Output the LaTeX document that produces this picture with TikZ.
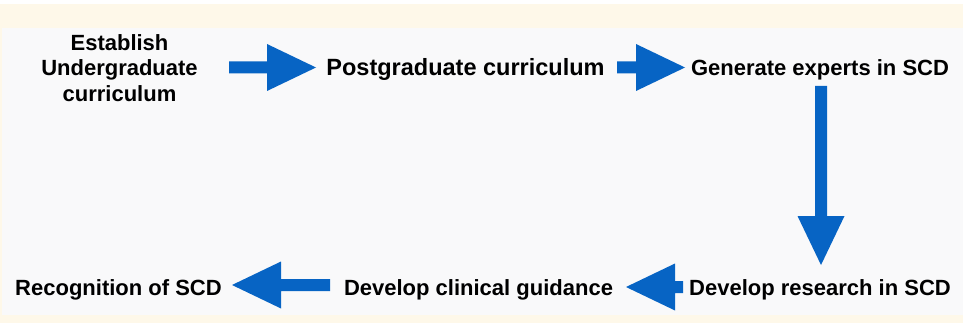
\documentclass[tikz,border=0pt]{standalone}
\usepackage{fontspec}
\setmainfont{Liberation Sans}
\definecolor{cream}{HTML}{FEF8E9}
\definecolor{panel}{HTML}{F9F9FA}
\definecolor{arrowblue}{HTML}{0764C4}
\tikzset{
  lbl/.style={font=\bfseries\fontsize{22}{25.5}\selectfont, inner sep=0pt, align=center, text=black},
  lblbig/.style={lbl, font=\bfseries\fontsize{23.5}{27}\selectfont},
  pics/barrow/.style={code={
    \fill[arrowblue] (0,-6) -- (#1-49,-6) -- (#1-49,-23.5) -- (#1,0) -- (#1-49,23.5) -- (#1-49,6) -- (0,6) -- cycle;}}
}
\begin{document}
\begin{tikzpicture}[x=1pt,y=-1pt]
\useasboundingbox (0,0) rectangle (963,323);
\fill[cream] (0,0) rectangle (963,323);
\fill[white] (0,0) rectangle (963,4);
\fill[panel] (2,28) rectangle (963,315);

\node[lbl, anchor=center] (est) at (119.5,68) {Establish\\Undergraduate\\curriculum};
\node[lblbig, anchor=base] (pg) at (465.5,76) {Postgraduate curriculum};
\node[lbl, anchor=base] (gen) at (820,76) {Generate experts in SCD};
\node[lbl, anchor=base] (res) at (820,295) {Develop research in SCD};
\node[lbl, anchor=base] (cli) at (478.5,295) {Develop clinical guidance};
\node[lbl, anchor=base] (rec) at (118.5,295) {Recognition of SCD};

\coordinate (a1) at (229,67.5);
\coordinate (a2) at (617,67.5);
\coordinate (a3) at (821,86);
\coordinate (a4) at (683,287);
\coordinate (a5) at (330,285);

\pic at (a1) {barrow=87};
\pic at (a2) {barrow=68};
\pic[rotate=-90] at (a3) {barrow=179};
\pic[rotate=180] at (a4) {barrow=57};
\pic[rotate=180] at (a5) {barrow=98};
\end{tikzpicture}
\end{document}
